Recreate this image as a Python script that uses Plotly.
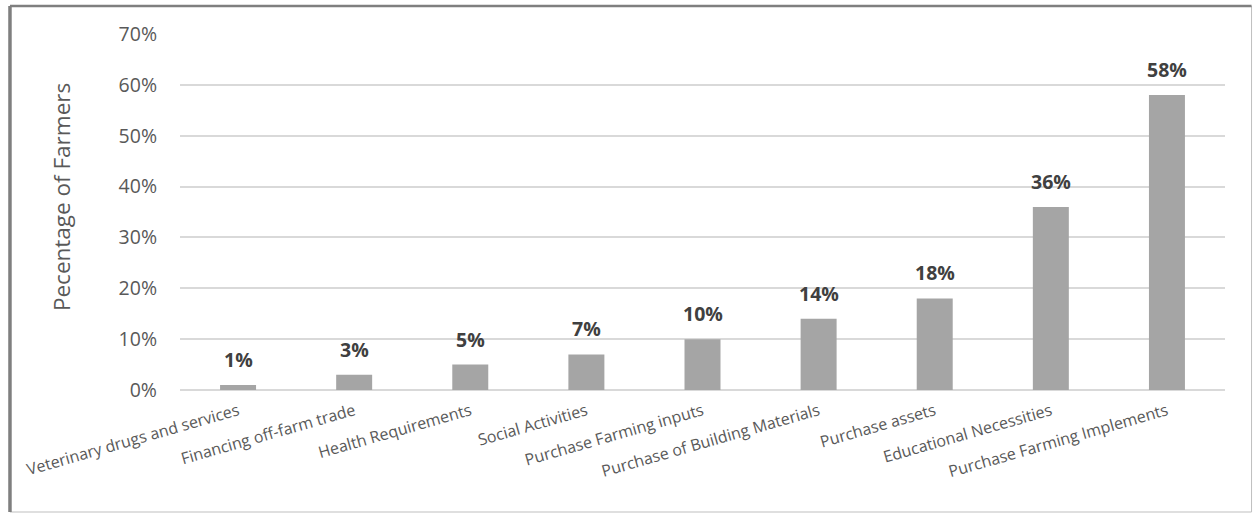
import plotly.graph_objects as go

categories = ["Veterinary drugs and services", "Financing off-farm trade", "Health Requirements",
              "Social Activities", "Purchase Farming inputs", "Purchase of Building Materials",
              "Purchase assets", "Educational Necessities", "Purchase Farming Implements"]
values = [0.01, 0.03, 0.05, 0.07, 0.10, 0.14, 0.18, 0.36, 0.58]
labels = ["1%", "3%", "5%", "7%", "10%", "14%", "18%", "36%", "58%"]

FONT = "Open Sans"

fig = go.Figure()
fig.add_trace(go.Bar(x=categories, y=values, marker=dict(color="#A5A5A5", line=dict(width=0)),
                     width=0.31, hoverinfo="skip"))

for c, v, t in zip(categories, values, labels):
    fig.add_annotation(x=c, y=v, text="<b>%s</b>" % t, showarrow=False, yanchor="bottom",
                       yshift=10, font=dict(family=FONT, size=19.5, color="#404040"))

fig.add_annotation(xref="paper", yref="paper", x=-0.130, y=0.541, text="Pecentage of Farmers",
                   textangle=-90, showarrow=False, font=dict(family=FONT, size=22.5, color="#595959"))

# outer frame
L, R, T, B = -0.1627, 1.0254, 1.0787, -0.3427
fig.add_shape(type="line", xref="paper", yref="paper", x0=L, x1=R, y0=B, y1=B,
              line=dict(color="#BFBFBF", width=1))
fig.add_shape(type="line", xref="paper", yref="paper", x0=R, x1=R, y0=B, y1=T,
              line=dict(color="#BFBFBF", width=1))
fig.add_shape(type="line", xref="paper", yref="paper", x0=L, x1=R, y0=T, y1=T,
              line=dict(color="#7F7F7F", width=2.5))
fig.add_shape(type="line", xref="paper", yref="paper", x0=L, x1=L, y0=B, y1=T,
              line=dict(color="#7F7F7F", width=3.5))

fig.update_layout(
    width=1253, height=514,
    margin=dict(l=180, r=28, t=34, b=124),
    plot_bgcolor="white", paper_bgcolor="white",
    showlegend=False,
    xaxis=dict(tickangle=-16, tickfont=dict(family=FONT, size=16, color="#595959"),
               showgrid=False, showline=False, ticks="", ticklabelstandoff=8, fixedrange=True),
    yaxis=dict(range=[0, 0.7], dtick=0.1, tickformat=".0%",
               tickfont=dict(family=FONT, size=19.5, color="#595959"),
               showgrid=True, gridcolor="#D9D9D9", gridwidth=1.5,
               zeroline=True, zerolinecolor="#D9D9D9", zerolinewidth=1.5,
               showline=False, ticks="", ticklabelstandoff=22, fixedrange=True),
)

fig.write_html("out.html")
